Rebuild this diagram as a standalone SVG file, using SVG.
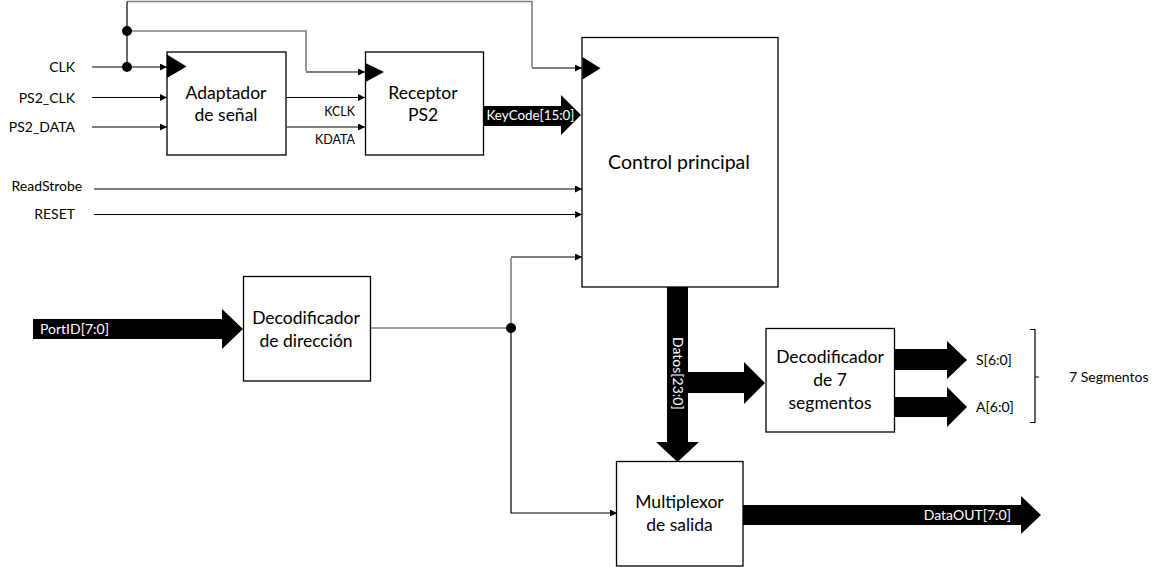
<svg xmlns="http://www.w3.org/2000/svg" width="1162" height="567" viewBox="0 0 1162 567">
<defs>
<style>
text{font-family:Lato,"Liberation Sans","DejaVu Sans",sans-serif;fill:#000}
.box{fill:#fff;stroke:#000;stroke-width:1.3}
.lbl{font-size:14px}
.sm{font-size:12.5px}
.blk{font-size:17.5px;text-anchor:middle}
.wht{font-size:14px;fill:#fff}
.w{fill:none;stroke:#000;stroke-width:1.2}
.g{fill:none;stroke:#7f7f7f;stroke-width:1.6}
.bus{fill:#000;stroke:none}
.clk{fill:#000}
</style>
<marker id="ah" viewBox="0 0 10 10" refX="10" refY="5" markerWidth="7" markerHeight="7" markerUnits="userSpaceOnUse" orient="auto">
<path d="M0,0 L10,5 L0,10 z" fill="#000"/>
</marker>
</defs>
<rect width="1162" height="567" fill="#fff"/>

<g id="connectors">
<path class="g" d="M127,1.5 H532 V67"/>
<path class="w" d="M532,68 H582" marker-end="url(#ah)"/>
<path class="w" d="M127,1.5 V67"/>
<path class="g" d="M127,31 H306 V71"/>
<path class="w" d="M306,72 H365" marker-end="url(#ah)"/>
<path class="w" d="M92,67 H167" marker-end="url(#ah)"/>
<circle cx="127" cy="31" r="5" fill="#000"/>
<circle cx="127" cy="67" r="5" fill="#000"/>
<path class="w" d="M92,97.5 H167" marker-end="url(#ah)"/>
<path class="w" d="M92,127 H167" marker-end="url(#ah)"/>
<path class="w" d="M287,97.5 H365" marker-end="url(#ah)"/>
<path class="w" d="M287,127 H365" marker-end="url(#ah)"/>
<text class="sm" x="355" y="116" text-anchor="end">KCLK</text>
<text class="sm" x="355" y="144" text-anchor="end">KDATA</text>
<path class="w" d="M94,189 H582" marker-end="url(#ah)"/>
<path class="w" d="M94,214.5 H582" marker-end="url(#ah)"/>
<polygon class="bus" points="484,106 561,106 561,95 581,115 561,135 561,126 484,126"/>
<text class="wht" x="486.5" y="120" style="font-size:13.4px">KeyCode[15:0]</text>
<polygon class="bus" points="33,319 222,319 222,309 243,329 222,349 222,339 33,339"/>
<text class="wht" x="40" y="334">PortID[7:0]</text>
<path class="g" d="M370,328 H511 V258"/>
<path class="w" d="M511,257 H582" marker-end="url(#ah)"/>
<path class="w" d="M511,328 V513 H617" marker-end="url(#ah)"/>
<circle cx="511" cy="328" r="5" fill="#000"/>
<polygon class="bus" points="667,287 688,287 688,372 744,372 744,362 765,383 744,404 744,393 688,393 688,442 699,442 677.5,462 656,442 667,442"/>
<text class="wht" transform="translate(672.5,337) rotate(90)">Datos[23:0]</text>
<polygon class="bus" points="895,349 947,349 947,341 967,360 947,379 947,370 895,370"/>
<polygon class="bus" points="895,397 947,397 947,387 967,407 947,427 947,417 895,417"/>
<text class="lbl" x="976" y="365">S[6:0]</text>
<text class="lbl" x="976" y="412">A[6:0]</text>
<path class="w" d="M1030,329.5 H1035 V422.5 H1030 M1035,377 H1039"/>
<text class="lbl" x="1069" y="382">7 Segmentos</text>
<polygon class="bus" points="743,505 1021,505 1021,496 1041,515 1021,534 1021,525 743,525"/>
<text class="wht" x="1011" y="519.5" text-anchor="end">DataOUT[7:0]</text>
<text class="lbl" x="75" y="72" text-anchor="end">CLK</text>
<text class="lbl" x="75" y="102.5" text-anchor="end">PS2_CLK</text>
<text class="lbl" x="75" y="131.5" text-anchor="end">PS2_DATA</text>
<text class="lbl" x="11.5" y="191">ReadStrobe</text>
<text class="lbl" x="75" y="218.5" text-anchor="end">RESET</text>
</g>

<g id="adaptador">
<rect class="box" x="167" y="52" width="119" height="103"/>
<polygon class="clk" points="167,54.5 167,78 186.5,66.5"/>
<text class="blk" x="226" y="98.5">Adaptador</text>
<text class="blk" x="226" y="121">de señal</text>
</g>

<g id="receptor">
<rect class="box" x="365.5" y="52" width="118" height="103"/>
<polygon class="clk" points="365.5,63 365.5,82 384,72"/>
<text class="blk" x="423" y="98.5">Receptor</text>
<text class="blk" x="423" y="121">PS2</text>
</g>

<g id="control">
<rect class="box" x="582" y="37.5" width="196" height="249.5"/>
<polygon class="clk" points="582.5,57 582.5,79.5 600.5,68.3"/>
<text x="679" y="169" font-size="19.5" text-anchor="middle">Control principal</text>
</g>

<g id="dec_dir">
<rect class="box" x="243.5" y="276.5" width="127" height="104.5"/>
<text class="blk" x="306" y="324">Decodificador</text>
<text class="blk" x="306" y="346.5">de dirección</text>
</g>

<g id="dec_7seg">
<rect class="box" x="766" y="328.5" width="128.5" height="103.5"/>
<text class="blk" x="830" y="363">Decodificador</text>
<text class="blk" x="830" y="386">de 7</text>
<text class="blk" x="830" y="408.5">segmentos</text>
</g>

<g id="mux">
<rect class="box" x="616.5" y="461.5" width="126.5" height="104.5"/>
<text class="blk" x="679.5" y="508">Multiplexor</text>
<text class="blk" x="679.5" y="531">de salida</text>
</g>
</svg>
